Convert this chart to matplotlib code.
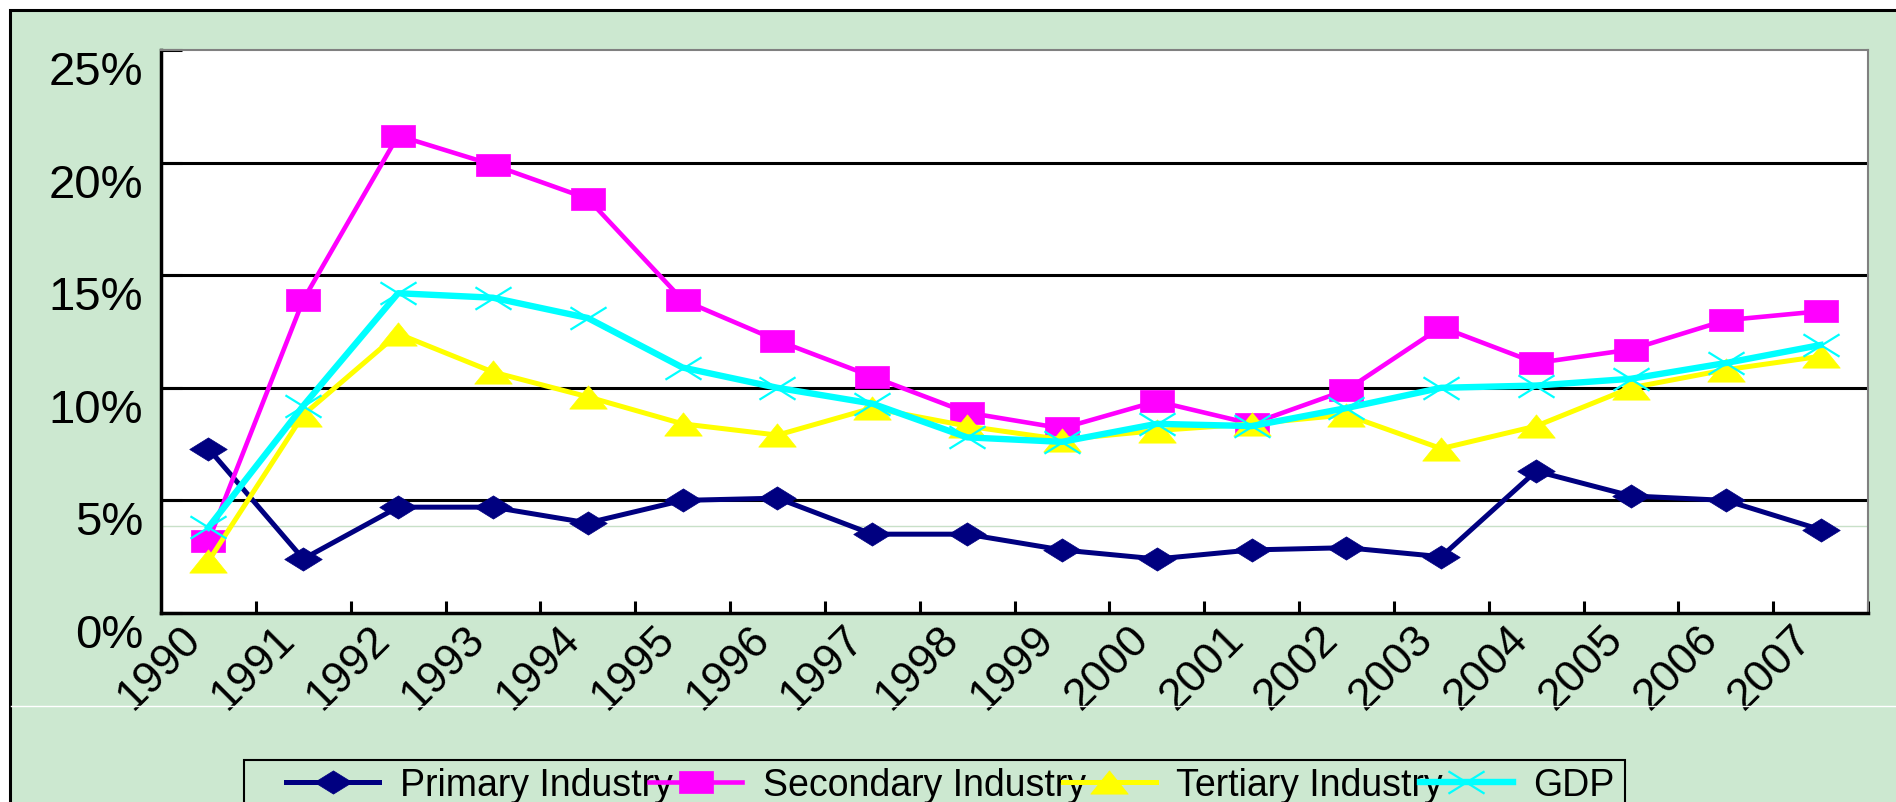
import matplotlib
matplotlib.use('Agg')
import matplotlib.pyplot as plt
from matplotlib.path import Path
from matplotlib.patches import Rectangle
from matplotlib.lines import Line2D
import numpy as np

# growth rates, %
years = [str(y) for y in range(1990, 2008)]
primary = [7.3, 2.4, 4.7, 4.7, 4.0, 5.0, 5.1, 3.5, 3.5, 2.8, 2.4, 2.8, 2.9, 2.5, 6.3, 5.2, 5.0, 3.7]
secondary = [3.2, 13.9, 21.2, 19.9, 18.4, 13.9, 12.1, 10.5, 8.9, 8.2, 9.4, 8.4, 9.9, 12.7, 11.1, 11.7, 13.0, 13.4]
tertiary = [2.3, 8.8, 12.4, 10.7, 9.6, 8.4, 7.9, 9.1, 8.3, 7.7, 8.1, 8.4, 8.8, 7.3, 8.3, 10.0, 10.8, 11.4]
gdp = [3.8, 9.2, 14.2, 14.0, 13.1, 10.9, 10.0, 9.3, 7.8, 7.6, 8.4, 8.3, 9.1, 10.0, 10.1, 10.4, 11.1, 11.9]
names = ['Primary Industry', 'Secondary Industry', 'Tertiary Industry', 'GDP']
yticks = [0, 5, 10, 15, 20, 25]
ylabels = ['0%', '5%', '10%', '15%', '20%', '25%']

plt.rcParams['font.family'] = ['Liberation Sans', 'DejaVu Sans']

W, H = 1896, 803
bg = '#CCE8D0'

fig = plt.figure(figsize=(W / 100, H / 100), dpi=100, facecolor='white')
# outer chart frame
fig.add_artist(Rectangle((10 / W, -0.05), 1.1, 1.05 - 11 / H, transform=fig.transFigure,
                         facecolor=bg, edgecolor='black', linewidth=2.2, zorder=-10))
fig.add_artist(Line2D([11 / W, 1], [1 - 707 / H] * 2, transform=fig.transFigure,
                      color='white', lw=1))

ax = fig.add_axes([161 / W, 1 - 614 / H, (1868 - 161) / W, (614 - 51) / H])
ax.set_facecolor('white')

# stretched marker shapes
M, L, C = Path.MOVETO, Path.LINETO, Path.CLOSEPOLY
r = 0.62
diamond = Path([(0, -r), (1, 0), (0, r), (-1, 0), (0, -r)], [M, L, L, L, C])
square = Path([(-1, -r), (1, -r), (1, r), (-1, r), (-1, -r)], [M, L, L, L, C])
tri = Path([(0, r), (1, -r), (-1, -r), (0, r)], [M, L, L, C])
cross = Path([(-1, -r), (1, r), (-1, r), (1, -r)], [M, L, M, L])

x = np.arange(len(years))
ax.plot(x, primary, color='#000080', lw=3.6, marker=diamond, ms=27, mec='#000080', mew=0.5,
        label=names[0])
ax.plot(x, secondary, color='#FF00FF', lw=3.3, marker=square, ms=25, mec='#FF00FF', mew=0.5,
        label=names[1])
ax.plot(x, tertiary, color='#FFFF00', lw=3.6, marker=tri, ms=27, mec='#FFFF00', mew=0.5,
        label=names[2])
ax.plot(x, gdp, color='#00FFFF', lw=4.6, marker=cross, ms=26, mfc='none', mec='#00FFFF', mew=1.6,
        label=names[3])

# faint artifact line in the plot area
ax.add_line(Line2D([161 / W, 1868 / W], [1 - 527 / H] * 2, transform=fig.transFigure,
                   color='#C8E0C8', lw=1, zorder=1.5))

ax.set_xlim(-0.5, len(years) - 0.5)
ax.set_ylim(0, 25)

ax.set_yticks(yticks, ylabels)
ax.tick_params(axis='y', direction='in', length=15, width=2.2, color='black', labelsize=34, pad=13)
for t in ax.get_yticklabels():
    t.set_va('top')
ax.yaxis.grid(True, color='black', lw=2.2)
ax.get_ygridlines()[0].set_visible(False)
ax.get_ygridlines()[-1].set_visible(False)
ax.set_axisbelow(True)

ax.set_xticks(x, years, rotation=45, ha='right', fontsize=32)
ax.tick_params(axis='x', which='major', length=0, pad=3)
ax.set_xticks(np.arange(0.5, len(years), 1), minor=True)
ax.tick_params(axis='x', which='minor', direction='in', length=9, width=2.2, color='black')

for s in ['left', 'bottom']:
    ax.spines[s].set_color('black')
    ax.spines[s].set_linewidth(2.5)
for s in ['top', 'right']:
    ax.spines[s].set_color('#808080')
    ax.spines[s].set_linewidth(1.5)

h, l = ax.get_legend_handles_labels()
fig.legend(h, l, loc='upper left', bbox_to_anchor=(286 / W, 1 - 768 / H), ncol=4,
           frameon=False, fontsize=27, handlelength=2.48, handletextpad=0.55,
           columnspacing=-0.62, borderpad=0, borderaxespad=0)
fig.add_artist(Rectangle((244 / W, -0.1), (1625 - 244) / W, 1 - 761 / H + 0.1,
                         transform=fig.transFigure, fill=False, edgecolor='black', lw=1.5))

fig.savefig('out.png', dpi=100, facecolor='white')
